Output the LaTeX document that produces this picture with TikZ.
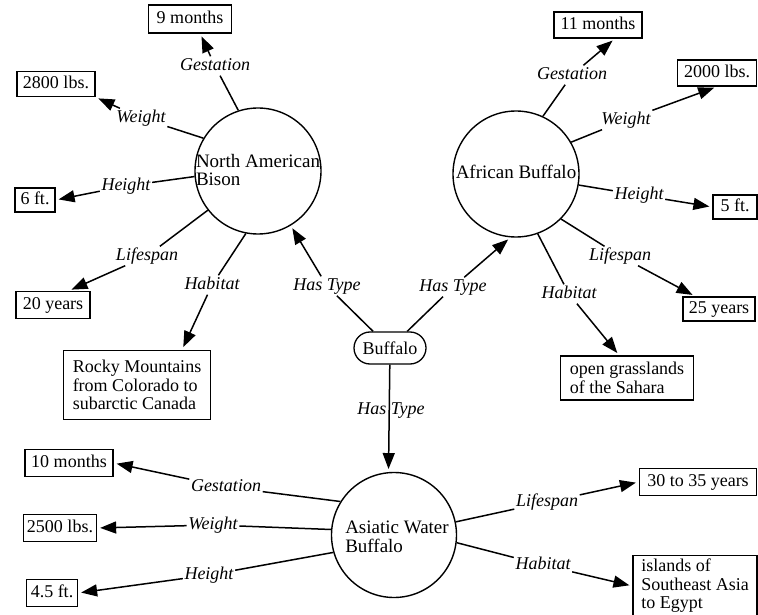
\documentclass[tikz,border=0pt]{standalone}
\usepackage{fontspec}
\setmainfont{Liberation Serif}
\usetikzlibrary{arrows.meta}
\begin{document}
\begin{tikzpicture}[x=1pt,y=-1pt,
  every node/.style={font=\fontsize{18}{18.5}\selectfont},
  circ/.style={draw, circle, line width=1.4pt, minimum size=126pt, inner sep=0pt},
  ctext/.style={align=left, inner sep=0pt, font=\fontsize{19}{18.5}\selectfont},
  valbox/.style={draw, line width=1.3pt, inner sep=0pt, text height=12.5pt, text depth=3.5pt},
  multibox/.style={draw, line width=1.3pt, inner sep=0pt, align=left},
  lab/.style={font=\fontsize{18}{18.5}\selectfont\itshape, inner sep=1.5pt, text height=12.5pt, text depth=3.5pt},
  conn/.style={line width=1.5pt},
  arr/.style={conn, -{Triangle[length=16pt,width=12pt]}, shorten >=3pt},
]
\useasboundingbox (0,0) rectangle (758,615);
\fill[white] (0,0) rectangle (758,615);

% the three kinds of buffalo
\node[circ] (bison) at (258,171) {};
\node[ctext] (bisontxt) at (258,170) {North American\\Bison};
\node[circ] (african) at (516,174) {};
\node[ctext] (africantxt) at (516,172) {African Buffalo};
\node[circ, minimum size=125pt] (asiatic) at (394,535) {};
\node[ctext] (asiatictxt) at (397,537) {Asiatic Water\\Buffalo};

% root concept
\node[draw, line width=1.3pt, rounded corners=16pt, minimum width=72pt,
      minimum height=32pt, inner sep=0pt] (buffalo) at (390,348) {Buffalo};

% attribute values
\node[valbox, minimum width=83pt, minimum height=28pt] (m9) at (190,19) {9 months};
\node[valbox, minimum width=78pt, minimum height=25pt] (b2800) at (56,84) {2800 lbs.};
\node[valbox, minimum width=40pt, minimum height=24pt] (f6) at (35,200) {6 ft.};
\node[valbox, minimum width=74pt, minimum height=27pt] (y20) at (53,305) {20 years};
\node[multibox, minimum width=147pt, minimum height=69pt] (rocky) at (137,385)
  {Rocky Mountains\\from Colorado to\\subarctic Canada};
\node[valbox, minimum width=88pt, minimum height=27pt] (m10) at (69,463) {10 months};
\node[valbox, minimum width=73pt, minimum height=27pt] (b2500) at (60,528) {2500 lbs.};
\node[valbox, minimum width=51pt, minimum height=27pt] (f45) at (52,593) {4.5 ft.};
\node[valbox, minimum width=88pt, minimum height=26pt] (m11) at (598,25) {11 months};
\node[valbox, minimum width=79pt, minimum height=26pt] (b2000) at (717,73) {2000 lbs.};
\node[valbox, minimum width=44pt, minimum height=24pt] (f5) at (735,207) {5 ft.};
\node[valbox, minimum width=72pt, minimum height=24pt] (y25) at (719,309) {25 years};
\node[multibox, minimum width=133pt, minimum height=44pt] (grass) at (627,378)
  {open grasslands\\of the Sahara};
\node[valbox, minimum width=117pt, minimum height=27pt] (y3035) at (698,482) {30 to 35 years};
\node[multibox, minimum width=124pt, minimum height=61pt] (isl) at (695,586)
  {islands of\\Southeast Asia\\to Egypt};

% relation labels
\node[lab] (gB) at (215,66) {Gestation};
\node[lab] (wB) at (141,118) {Weight};
\node[lab] (hB) at (126,186) {Height};
\node[lab] (lB) at (147,256) {Lifespan};
\node[lab] (habB) at (212,285) {Habitat};
\node[lab] (htL) at (327,286) {Has Type};

\node[lab] (gA) at (572,75) {Gestation};
\node[lab] (wA) at (626,120) {Weight};
\node[lab] (hA) at (639,195) {Height};
\node[lab] (lA) at (620,256) {Lifespan};
\node[lab] (habA) at (569,294) {Habitat};
\node[lab] (htR) at (453,287) {Has Type};

\node[lab] (htC) at (391,410) {Has Type};
\node[lab] (gW) at (226,487) {Gestation};
\node[lab] (wW) at (213,525) {Weight};
\node[lab] (hW) at (209,575) {Height};
\node[lab] (lW) at (547,502) {Lifespan};
\node[lab] (habW) at (543,565) {Habitat};

% North American Bison
\draw[conn] (bison.108) -- (gB);
\draw[arr] (gB) -- (m9.-55);
\draw[conn] (bison.149) -- (wB);
\draw[arr] (wB) -- (b2800.south east);
\draw[conn] (bison.185) -- (hB);
\draw[arr] (hB) -- (f6.east);
\draw[conn] (bison.218) -- (lB);
\draw[arr] (lB) -- (y20.42);
\draw[conn] (bison.259) -- (habB);
\draw[arr] (habB) -- (rocky.38);

% African Buffalo
\draw[conn] (african.65) -- (gA);
\draw[arr] (gA) -- (m11.-39);
\draw[conn] (african.30) -- (wA);
\draw[arr] (wA) -- (b2000.south);
\draw[conn] (african.-10) -- (hA);
\draw[arr] (hA) -- (f5.west);
\draw[conn] (african.-45) -- (lA);
\draw[arr] (lA) -- (y25.152);
\draw[conn] (african.-70) -- (habA);
\draw[arr] (habA) -- (grass.109);

% type links from the root
\draw[conn] (buffalo) -- (htL);
\draw[arr] (htL) -- (bison);
\draw[conn] (buffalo) -- (htR);
\draw[arr] (htR) -- (african.-95);
\draw[arr] (buffalo) -- (asiatic.95);

% Asiatic Water Buffalo
\draw[conn] (asiatic.148) -- (gW);
\draw[arr] (gW) -- (m10.east);
\draw[conn] (asiatic.175) -- (wW);
\draw[arr] (wW) -- (b2500.east);
\draw[conn] (asiatic.196) -- (hW);
\draw[arr] (hW) -- (f45.east);
\draw[conn] (asiatic.12) -- (lW);
\draw[arr] (lW) -- (y3035.west);
\draw[conn] (asiatic.-7) -- (habW);
\draw[arr] (habW) -- (isl.west);
\end{tikzpicture}
\end{document}
